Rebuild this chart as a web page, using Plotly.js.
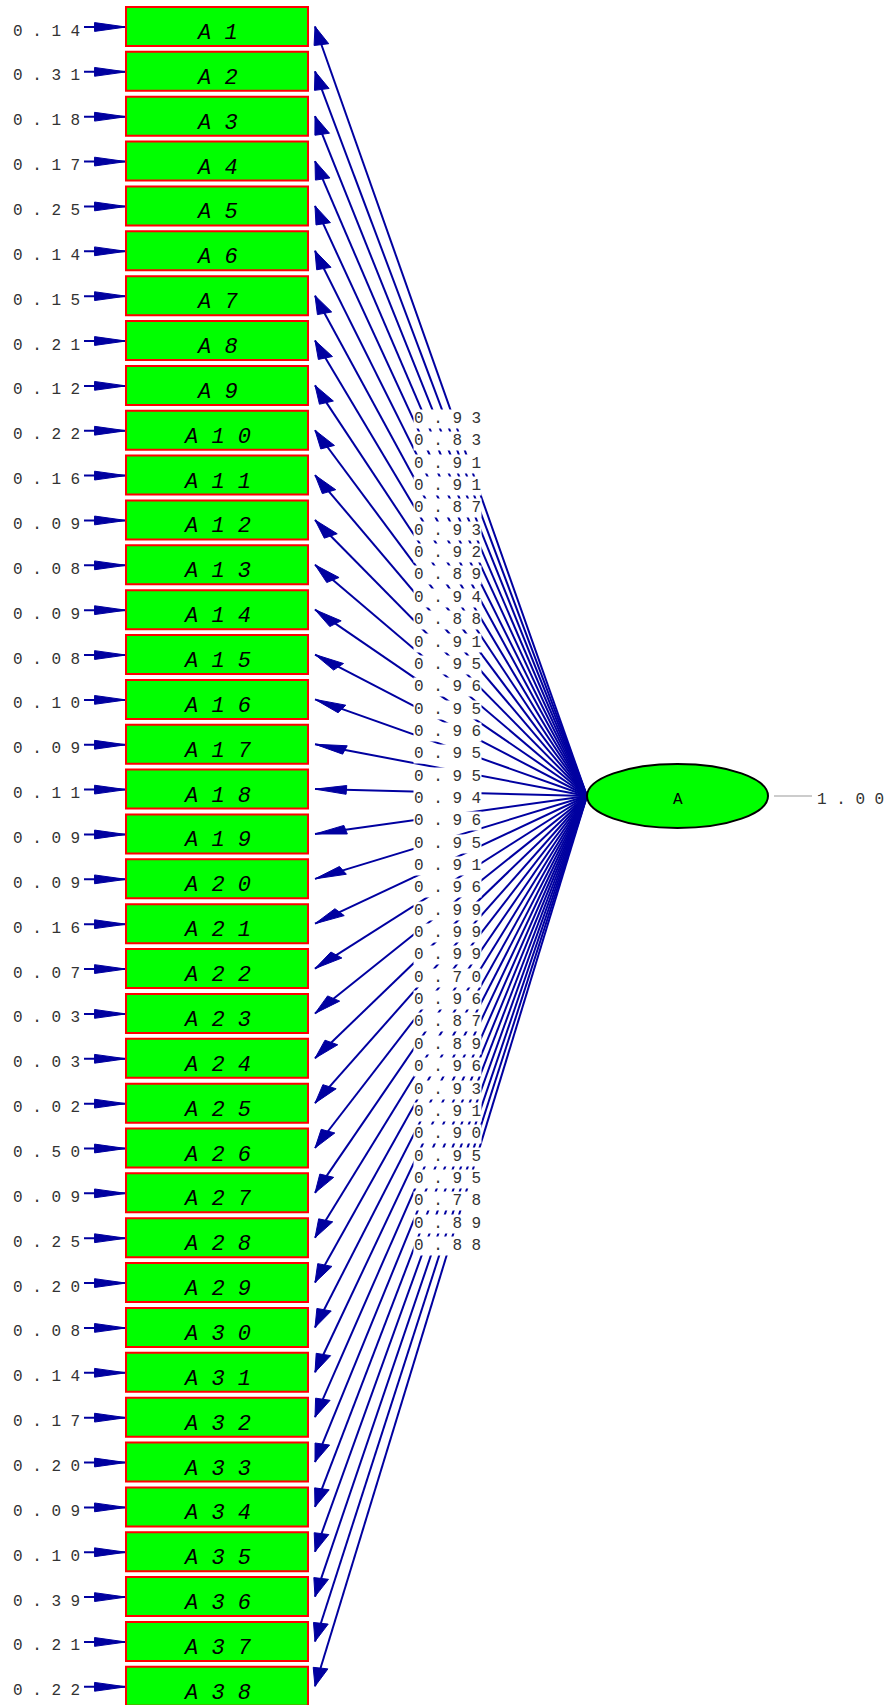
<!DOCTYPE html>
<html>
<head>
<meta charset="utf-8">
<script src="https://cdn.plot.ly/plotly-3.0.1.min.js"></script>
<style>
  html, body { margin: 0; padding: 0; background: #ffffff; }
  #chart { width: 887px; height: 1705px; }
</style>
</head>
<body>
<div id="chart"></div>
<script>
// ---------------- data ----------------
const items = ["A1","A2","A3","A4","A5","A6","A7","A8","A9","A10",
  "A11","A12","A13","A14","A15","A16","A17","A18","A19","A20",
  "A21","A22","A23","A24","A25","A26","A27","A28","A29","A30",
  "A31","A32","A33","A34","A35","A36","A37","A38"];
const loadings = [0.93,0.83,0.91,0.91,0.87,0.93,0.92,0.89,0.94,0.88,
  0.91,0.95,0.96,0.95,0.96,0.95,0.95,0.94,0.96,0.95,
  0.91,0.96,0.99,0.99,0.99,0.70,0.96,0.87,0.89,0.96,
  0.93,0.91,0.90,0.95,0.95,0.78,0.89,0.88];
const errors = [0.14,0.31,0.18,0.17,0.25,0.14,0.15,0.21,0.12,0.22,
  0.16,0.09,0.08,0.09,0.08,0.10,0.09,0.11,0.09,0.09,
  0.16,0.07,0.03,0.03,0.02,0.50,0.09,0.25,0.20,0.08,
  0.14,0.17,0.20,0.09,0.10,0.39,0.21,0.22];
const latentName = "A";
const latentVariance = 1.00;

// ---------------- geometry / style ----------------
const W = 887, H = 1705;
const boxTop0 = 7, boxPitch = 44.86, boxH = 39, boxX0 = 126, boxX1 = 308;
const labY0 = 418, labPitch = 22.35, labX = 447.5;
const ell = {x0: 587, x1: 768, y0: 764, y1: 828};
const ellCy = (ell.y0 + ell.y1) / 2;
const tipX = 315;
const errShaftX0 = 84;
const blue = "#0000A0";
const textGrey = "#333333";
const mono = "'Liberation Mono', 'Courier New', monospace";
const headS = 1.7, headL = 18.5, headW = 4.4;

const spaced = s => s.split("").join(" ");
const fmt = v => spaced(v.toFixed(2));
const boxCenter = i => boxTop0 + i * boxPitch + boxH / 2;

function head(tx, ty, sx, sy) {
  const dxp = (sx - tx) / headS, dy = sy - ty;
  const len = Math.hypot(dxp, dy);
  const ux = dxp / len, uy = dy / len;
  const bx = tx / headS + headL * ux, by = ty + headL * uy;
  const nx = -uy, ny = ux;
  return [[tx, ty], [(bx + headW * nx) * headS, by + headW * ny],
          [(bx - headW * nx) * headS, by - headW * ny], [tx, ty]];
}

const lineX = [], lineY = [], headX = [], headY = [];
const shapes = [], annotations = [];
const srcX = ell.x0, srcY = ellCy;

items.forEach((name, i) => {
  const cy = boxCenter(i);
  lineX.push(srcX, tipX, null); lineY.push(srcY, cy, null);
  head(tipX, cy, srcX, srcY).forEach(p => { headX.push(p[0]); headY.push(p[1]); });
  headX.push(null); headY.push(null);
  const ey = cy + 0.5;
  lineX.push(errShaftX0, boxX0, null); lineY.push(ey, ey, null);
  head(boxX0, ey, errShaftX0, ey).forEach(p => { headX.push(p[0]); headY.push(p[1]); });
  headX.push(null); headY.push(null);
  shapes.push({type: "rect", xref: "x", yref: "y", x0: boxX0, x1: boxX1,
    y0: boxTop0 + i * boxPitch, y1: boxTop0 + i * boxPitch + boxH,
    fillcolor: "#00ff00", line: {color: "#ff0000", width: 2}, layer: "above"});
  annotations.push({x: (boxX0 + boxX1) / 2, y: cy + 7, xref: "x", yref: "y",
    text: spaced(name), showarrow: false,
    font: {family: mono, size: 22, color: "#000000", style: "italic"}});
  annotations.push({x: 46, y: cy + 5, xref: "x", yref: "y",
    text: fmt(errors[i]), showarrow: false,
    font: {family: mono, size: 16, color: textGrey}});
});

shapes.push({type: "circle", xref: "x", yref: "y", x0: ell.x0, x1: ell.x1, y0: ell.y0, y1: ell.y1,
  fillcolor: "#00ff00", line: {color: "#000000", width: 2}, layer: "above"});
shapes.push({type: "line", xref: "x", yref: "y", x0: 774, x1: 812, y0: ellCy, y1: ellCy,
  line: {color: "#bbbbbb", width: 1.5}, layer: "above"});
annotations.push({x: (ell.x0 + ell.x1) / 2, y: ellCy + 4, xref: "x", yref: "y",
  text: latentName, showarrow: false, font: {family: mono, size: 16, color: "#000000"}});
annotations.push({x: 815, y: ellCy + 4, xref: "x", yref: "y", xanchor: "left",
  text: fmt(latentVariance), showarrow: false, font: {family: mono, size: 16, color: textGrey}});

loadings.forEach((v, i) => {
  annotations.push({x: labX, y: labY0 + i * labPitch + 1, xref: "x", yref: "y",
    text: fmt(v), showarrow: false, bgcolor: "#ffffff", borderpad: 0,
    font: {family: mono, size: 16, color: textGrey}});
});

const traces = [
  {x: lineX, y: lineY, mode: "lines", type: "scatter", hoverinfo: "skip",
   line: {color: blue, width: 2}, showlegend: false},
  {x: headX, y: headY, mode: "lines", type: "scatter", fill: "toself", hoverinfo: "skip",
   fillcolor: blue, line: {color: blue, width: 1}, showlegend: false}
];

const layout = {
  width: W, height: H,
  margin: {l: 0, r: 0, t: 0, b: 0, pad: 0},
  paper_bgcolor: "#ffffff", plot_bgcolor: "#ffffff",
  xaxis: {range: [0, W], visible: false, fixedrange: true},
  yaxis: {range: [H, 0], visible: false, fixedrange: true},
  shapes: shapes, annotations: annotations, showlegend: false
};

Plotly.newPlot("chart", traces, layout, {staticPlot: true, displayModeBar: false});
</script>
</body>
</html>
